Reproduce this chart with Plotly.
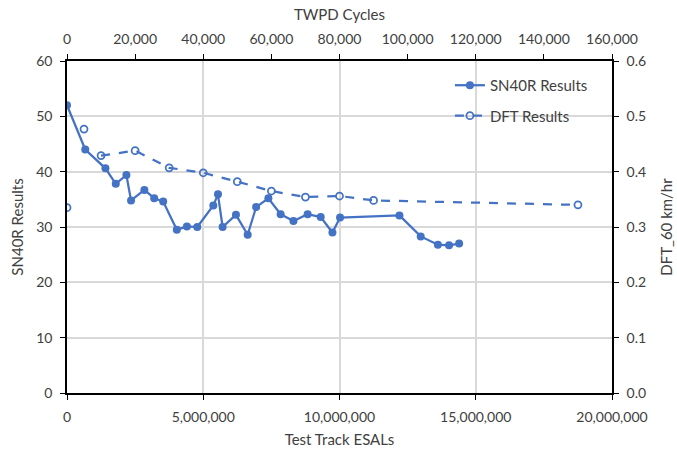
import plotly.graph_objects as go

# SN40R results vs Test Track ESALs (bottom x, left y)
esals = [0, 670000, 1410000, 1790000, 2180000, 2350000, 2840000, 3200000, 3530000,
         4030000, 4400000, 4780000, 5370000, 5540000, 5710000, 6200000, 6630000,
         6940000, 7390000, 7840000, 8310000, 8830000, 9310000, 9740000, 10020000,
         12200000, 12980000, 13610000, 14020000, 14390000]
sn40r = [52.0, 44.0, 40.6, 37.8, 39.4, 34.8, 36.7, 35.2, 34.6,
         29.5, 30.1, 30.0, 33.9, 35.9, 30.0, 32.2, 28.6,
         33.6, 35.2, 32.3, 31.1, 32.3, 31.8, 29.0, 31.7,
         32.1, 28.3, 26.8, 26.7, 27.0]

# DFT results vs TWPD cycles (top x, right y); None = empty cells (broken line)
twpd = [0, None, 5000, None, 10000, 20000, 30000, 40000, 50000, 60000, 70000, 80000, 90000, 150000]
dft = [0.335, None, 0.477, None, 0.429, 0.438, 0.407, 0.398, 0.382, 0.365, 0.354, 0.356, 0.348, 0.340]

blue = '#4472C4'
grid = '#D9D9D9'
txt = '#404040'
fnt = 'Lato, Open Sans, sans-serif'

fig = go.Figure()
fig.add_trace(go.Scatter(x=esals, y=sn40r, name='SN40R Results', mode='lines+markers',
                         line=dict(color=blue, width=2.25),
                         marker=dict(color=blue, size=8), legendgroup='a'))
fig.add_trace(go.Scatter(x=twpd, y=dft, name='DFT Results', mode='lines+markers',
                         xaxis='x2', yaxis='y2', connectgaps=False,
                         line=dict(color=blue, width=2.25, dash='dash'),
                         marker=dict(color=blue, size=7, symbol='circle-open', line=dict(width=1.75)),
                         legendgroup='b'))

ax = dict(showline=True, linecolor='black', linewidth=1.5, automargin=False,
          ticks='outside', ticklen=5, tickcolor='black', zeroline=False,
          ticklabelstandoff=5, tickfont=dict(size=14, color=txt))

fig.update_layout(
    width=677, height=454,
    margin=dict(l=67, r=65, t=61, b=61),
    paper_bgcolor='white', plot_bgcolor='white',
    font=dict(family=fnt, size=15, color=txt),
    showlegend=True,
    legend=dict(x=0.965, xanchor='right', y=0.976, yanchor='top',
                bgcolor='rgba(0,0,0,0)', font=dict(size=15, color=txt),
                tracegroupgap=8, traceorder='grouped'),
    xaxis=dict(range=[0, 20000000], dtick=5000000, tickformat=',d',
               showgrid=True, gridcolor=grid, gridwidth=1.5, **ax,
               title=dict(text='Test Track ESALs', font=dict(size=15, color=txt), standoff=11)),
    yaxis=dict(range=[0, 60], dtick=10,
               showgrid=True, gridcolor=grid, gridwidth=1.5, **ax,
               title=dict(text='SN40R Results', font=dict(size=15, color=txt), standoff=9)),
    xaxis2=dict(range=[0, 160000], dtick=20000, tickformat=',d', overlaying='x', side='top',
                showgrid=False, **ax,
                title=dict(text='TWPD Cycles', font=dict(size=15, color=txt), standoff=5)),
    yaxis2=dict(range=[0, 0.6], dtick=0.1, tickformat='.1f', overlaying='y', side='right',
                showgrid=False, **ax,
                title=dict(text='DFT_60 km/hr', font=dict(size=15, color=txt), standoff=16)),
)

fig.write_html("out.html", config={'displayModeBar': False},
               post_script="document.body.style.margin='0';")
